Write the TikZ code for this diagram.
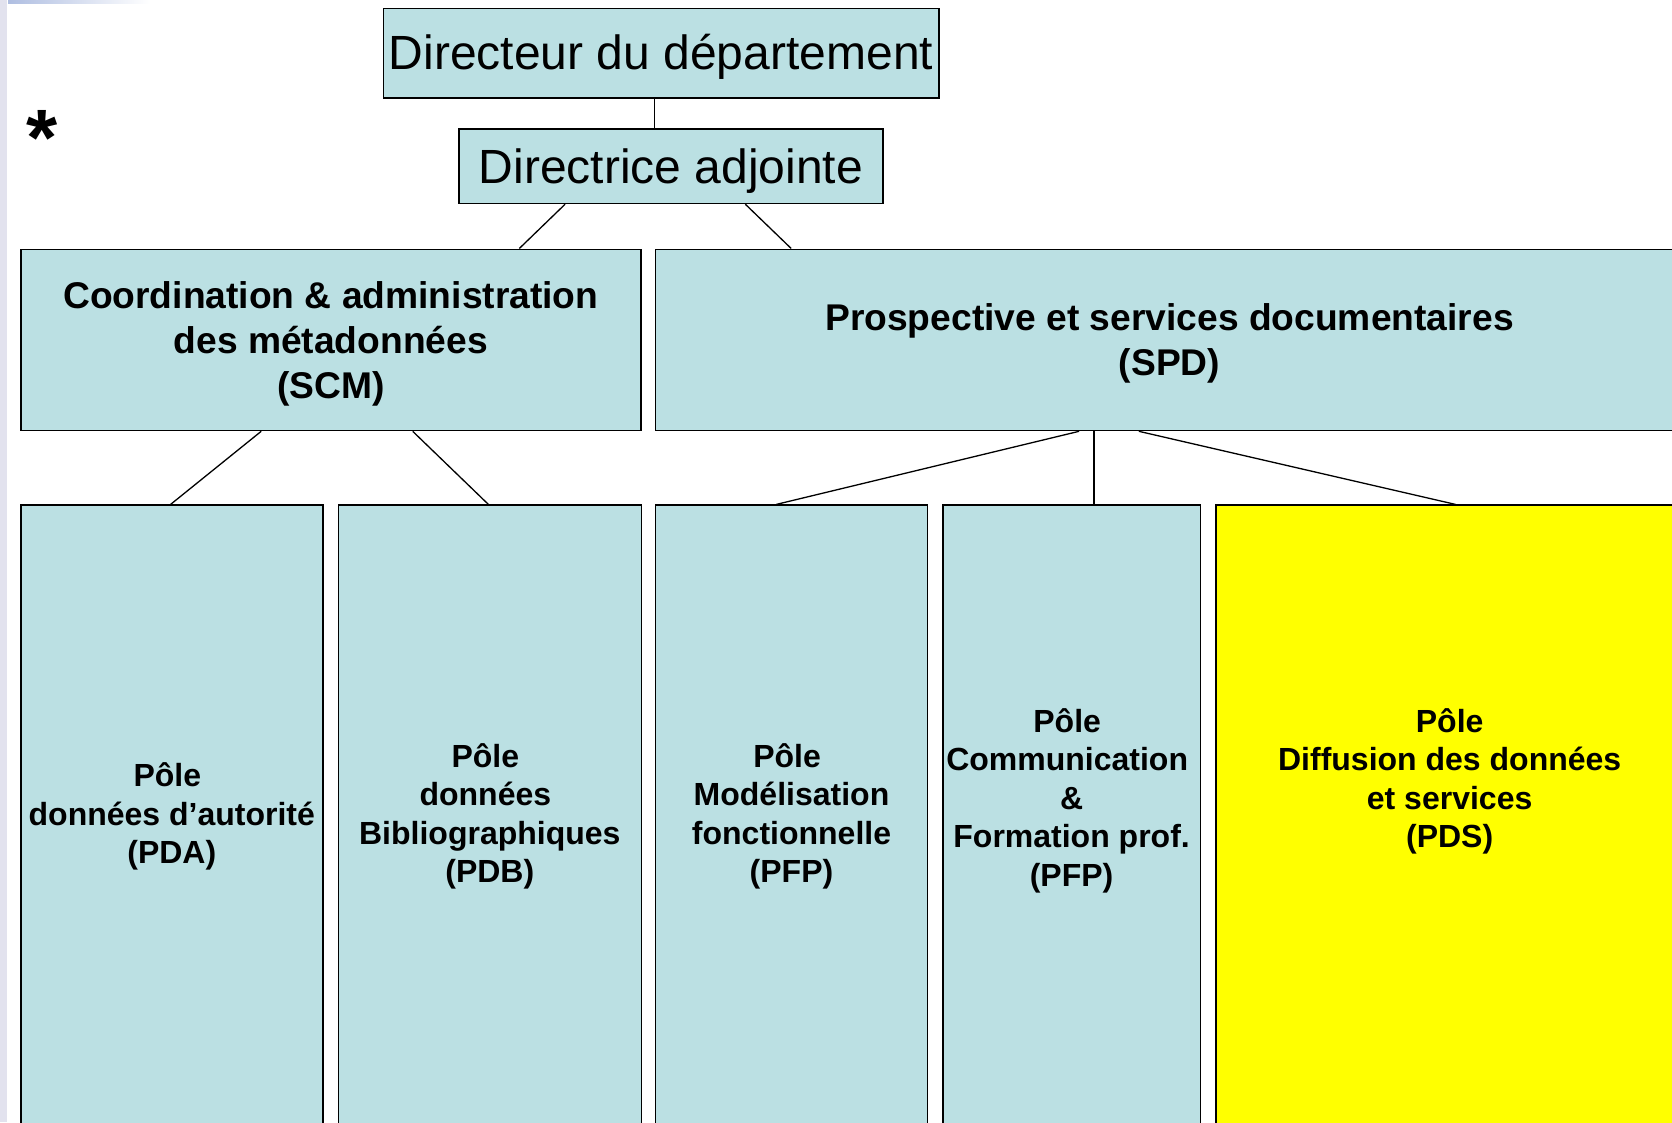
\documentclass[tikz,border=0pt]{standalone}
\usepackage{fontspec}
\setmainfont{Liberation Sans}
\definecolor{boxblue}{RGB}{187,224,227}
\definecolor{boxyellow}{RGB}{255,255,0}
\definecolor{lav}{RGB}{226,226,238}
\definecolor{topblue}{RGB}{175,190,225}
\newcommand{\trsp}{\kern8.9pt}
\begin{document}
\begin{tikzpicture}[x=1pt,y=-1pt,
  box/.style={draw=black, line width=1.6pt, fill=boxblue, inner sep=0pt, anchor=north west, align=center},
  bigtxt/.style={font=\fontsize{48}{57.6}\selectfont},
  midtxt/.style={font=\fontsize{37.2}{44.8}\selectfont\bfseries},
  smalltxt/.style={font=\fontsize{32}{38.4}\selectfont\bfseries},
  link/.style={draw=black, line width=1.3pt}]
\useasboundingbox (0,0) rectangle (1672,1122);
\clip (0,0) rectangle (1672,1122);
\fill[white] (0,0) rectangle (1672,1122);
\fill[lav] (0,0) rectangle (7,1122);
\shade[left color=topblue, right color=white] (8,0) rectangle (150,3);

% top level
\node[box, bigtxt, text height=42pt, text depth=10pt, minimum width=555.5pt, minimum height=89.5pt] (dir) at (382.5,7.5) {Directeur du département};
\node[box, bigtxt, text height=45pt, text depth=10pt, minimum width=423.7pt, minimum height=74.6pt] (dira) at (458.3,128) {Directrice adjointe};

% services
\node[box, midtxt, text depth=0pt, minimum width=620pt, minimum height=181.2pt] (scm) at (20,248.5)
  {Coordination \& administration\\des métadonnées\\(SCM)};
\node[box, midtxt, text depth=0pt, minimum width=1028pt, minimum height=181.2pt] (spd) at (654.7,248.5)
  {Prospective et services documentaires\\(SPD)};

% poles
\node[box, smalltxt, minimum width=302pt, minimum height=622.6pt] (pda) at (20,504.4)
  {Pôle\trsp\\données d’autorité\\(PDA)};
\node[box, smalltxt, minimum width=303pt, minimum height=622.6pt] (pdb) at (337.5,504.4)
  {Pôle\trsp\\données\trsp\\Bibliographiques\\(PDB)};
\node[box, smalltxt, minimum width=272pt, minimum height=622.6pt] (pfpa) at (654.7,504.4)
  {Pôle\trsp\\Modélisation\\fonctionnelle\\(PFP)};
\node[box, smalltxt, minimum width=257.6pt, minimum height=622.6pt] (pfpb) at (942,504.4)
  {Pôle\trsp\\Communication\trsp\\\&\\Formation prof.\\(PFP)\\\mbox{}};
\node[box, smalltxt, fill=boxyellow, minimum width=467.7pt, minimum height=622.6pt] (pds) at (1215,504.4)
  {Pôle\\Diffusion des données\\et services\\(PDS)\\\mbox{}\\\mbox{}};

% asterisk
\node[font=\fontsize{80}{96}\selectfont\bfseries, inner sep=0pt, anchor=base west] (ast) at (26,165) {*};

% connectors
\draw[link] ([xshift=272.2pt]dir.south west) -- ([xshift=196.4pt]dira.north west);
\draw[link] ([xshift=106.8pt]dira.south west) -- ([xshift=499.3pt]scm.north west);
\draw[link] ([xshift=287pt]dira.south west) -- ([xshift=136.5pt]spd.north west);
\draw[link] ([xshift=241.2pt]scm.south west) -- ([xshift=150.6pt]pda.north west);
\draw[link] ([xshift=392.7pt]scm.south west) -- ([xshift=150.9pt]pdb.north west);
\draw[link] ([xshift=424.4pt]spd.south west) -- ([xshift=121.6pt]pfpa.north west);
\draw[link] ([xshift=439.3pt]spd.south west) -- ([xshift=152pt]pfpb.north west);
\draw[link] ([xshift=484.1pt]spd.south west) -- ([xshift=240.5pt]pds.north west);
\end{tikzpicture}
\end{document}
